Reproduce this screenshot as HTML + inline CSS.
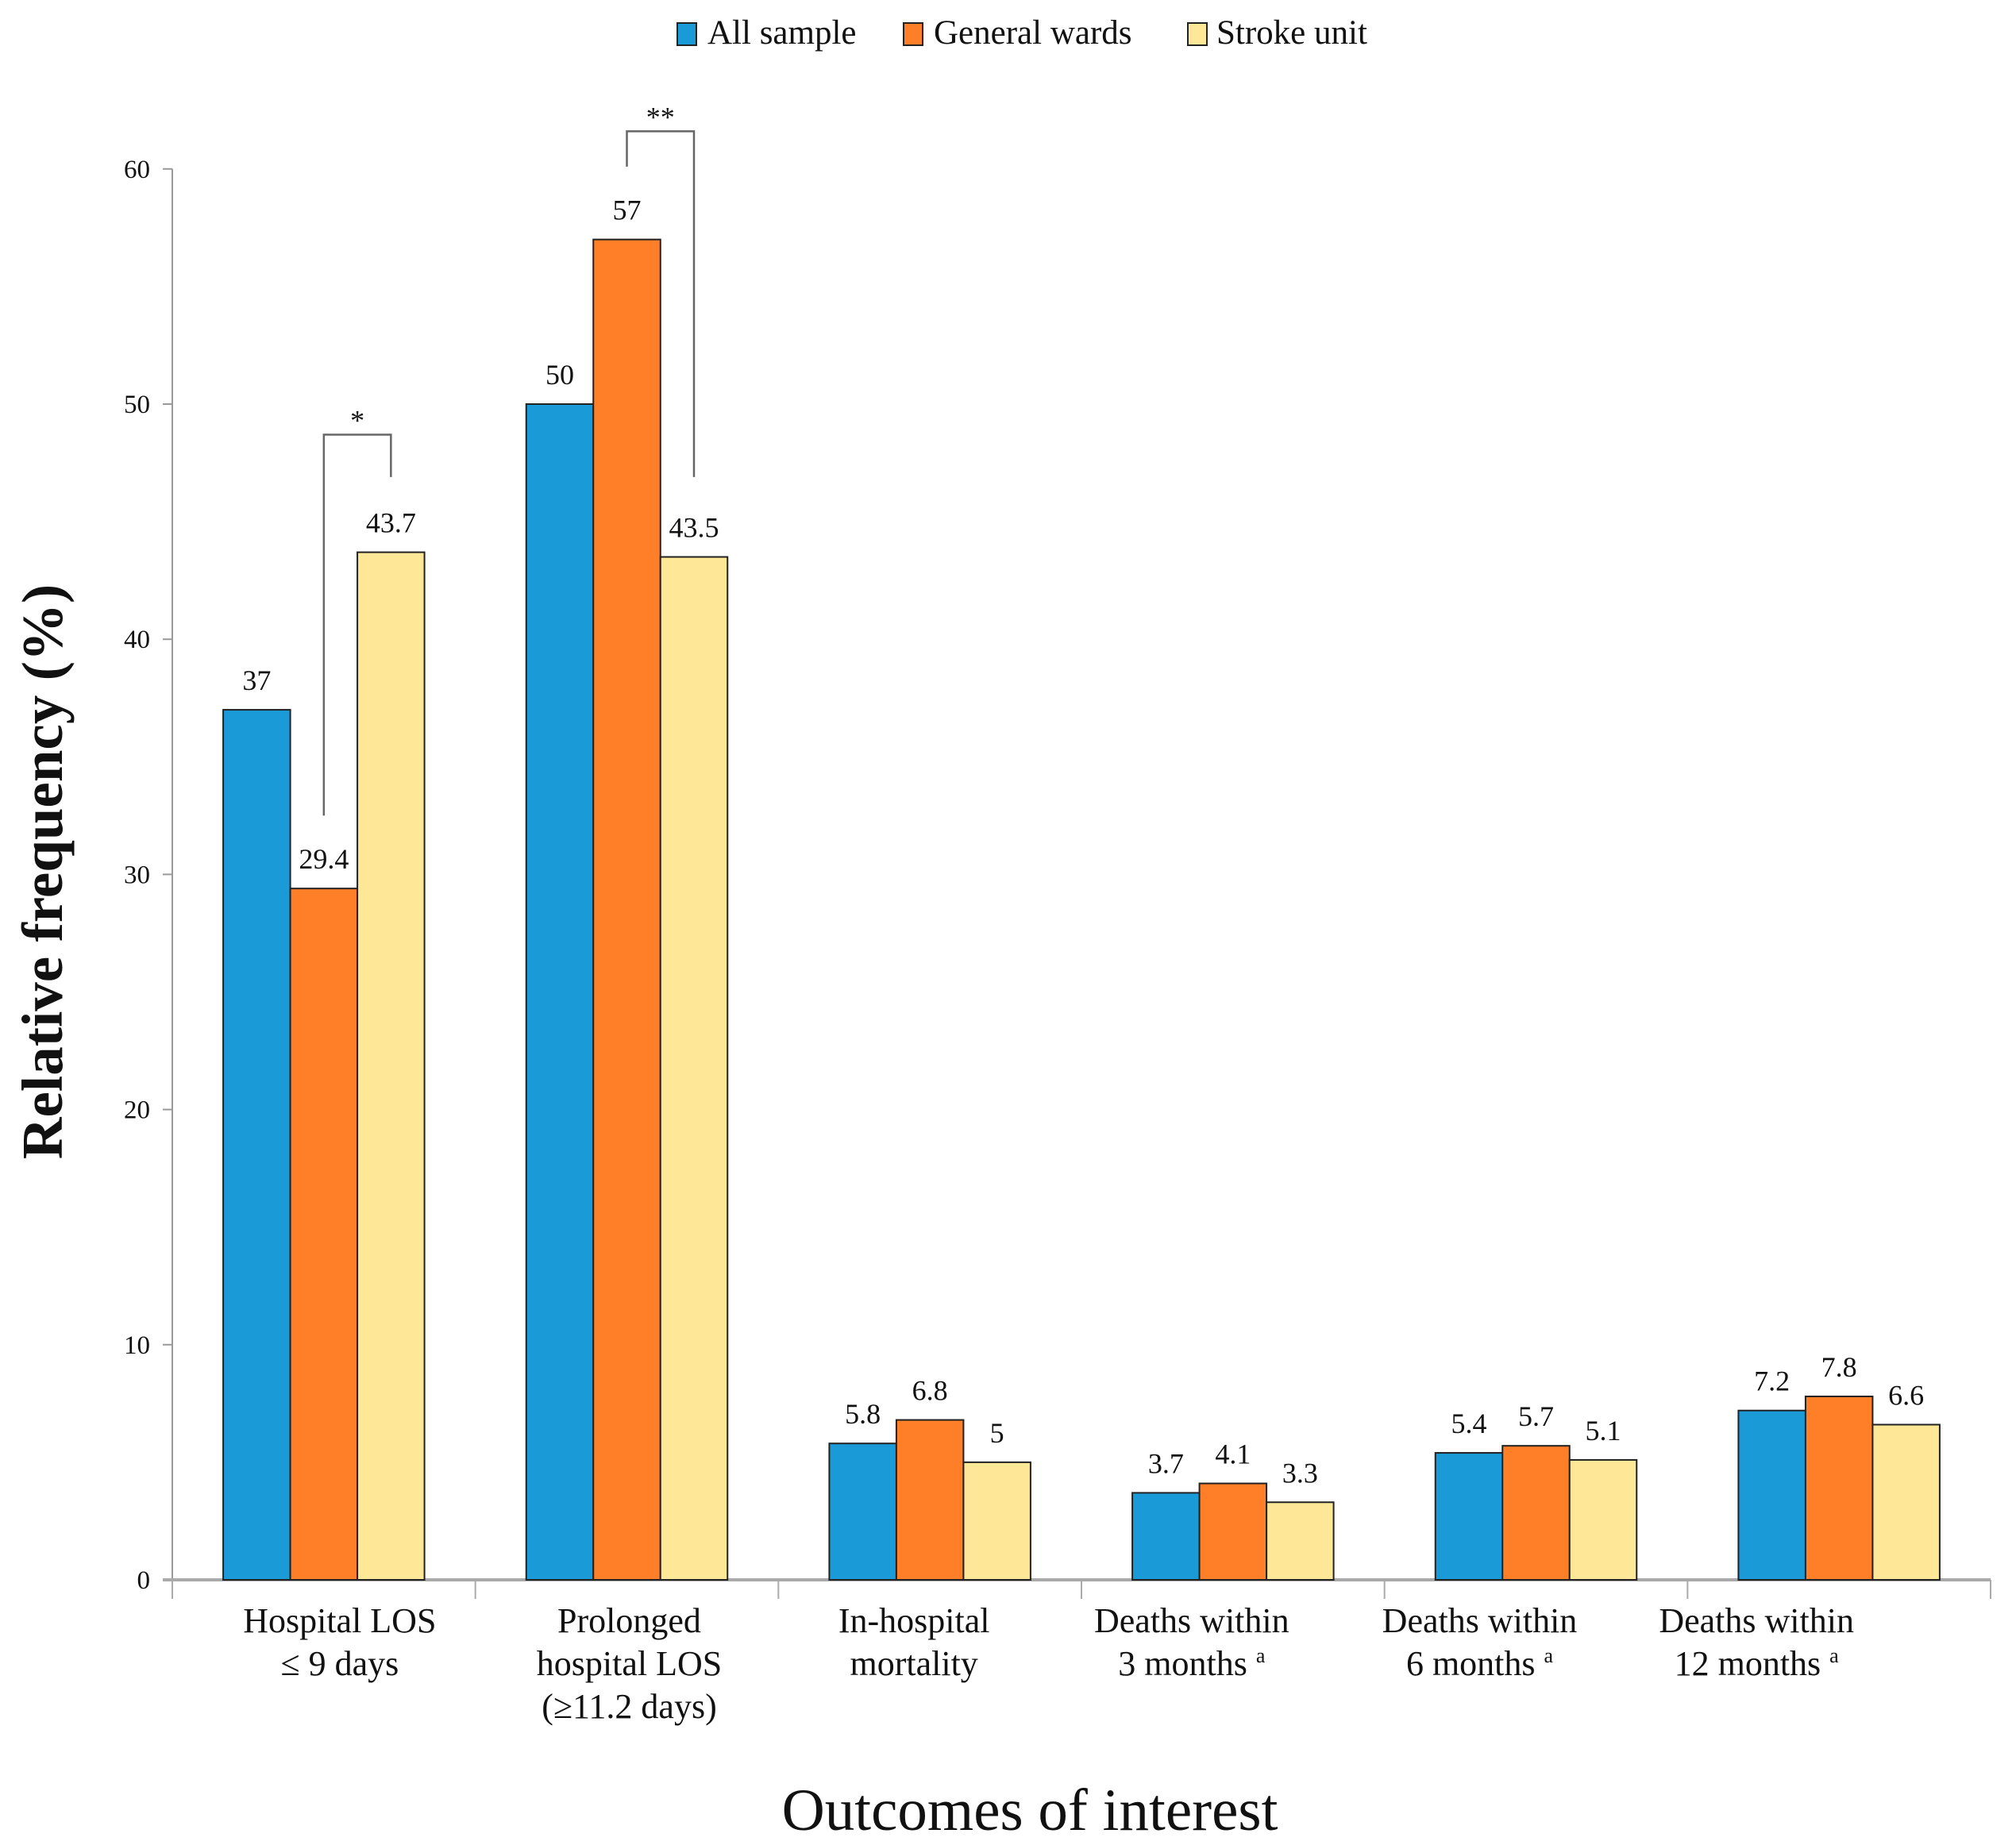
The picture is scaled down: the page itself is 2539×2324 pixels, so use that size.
<!DOCTYPE html>
<html><head><meta charset="utf-8"><style>
html,body{margin:0;padding:0;background:#fff}
svg{display:block;font-family:"Liberation Serif",serif}
text,tspan{font-family:"Liberation Serif",serif;fill:#111}
</style></head><body>
<svg id="chart" width="2539" height="2324" viewBox="0 0 2539 2324" xmlns="http://www.w3.org/2000/svg" font-family="Liberation Serif, serif">
<g id="legend">
 <g>
  <rect x="853" y="29" width="24" height="28" fill="#1a9bd7" stroke="#222" stroke-width="2"/>
  <text x="891" y="55" font-size="43">All sample</text></g>
 <g>
  <rect x="1138" y="29" width="24" height="28" fill="#fe7f27" stroke="#222" stroke-width="2"/>
  <text x="1176" y="55" font-size="43">General wards</text></g>
 <g>
  <rect x="1496" y="29" width="24" height="28" fill="#fee797" stroke="#222" stroke-width="2"/>
  <text x="1532" y="55" font-size="43">Stroke unit</text></g>
</g>
<g id="axes"></g>
<g id="bars"></g>
<g id="labels"></g>
<g id="brackets"></g>
<text transform="translate(78,1098) rotate(-90)" text-anchor="middle" font-size="73" font-weight="bold">Relative frequency (%)</text>
<text x="1297" y="2305" text-anchor="middle" font-size="75">Outcomes of interest</text>
</svg>
<script>
const categories = [["Hospital LOS","\u2264 9 days"],["Prolonged","hospital LOS","(\u226511.2 days)"],["In-hospital","mortality"],["Deaths within","3 months ^a"],["Deaths within","6 months ^a"],["Deaths within","12 months ^a"]];
const allSample = [37, 50, 5.8, 3.7, 5.4, 7.2];
const generalWards = [29.4, 57, 6.8, 4.1, 5.7, 7.8];
const strokeUnit = [43.7, 43.5, 5, 3.3, 5.1, 6.6];
const yTicks = [0, 10, 20, 30, 40, 50, 60];
const seriesNames = ["all-sample","general-wards","stroke-unit"];
const colors = ["#1a9bd7","#fe7f27","#fee797"];
// significance brackets: [group, fromSeries, toSeries, topValue, leftEndValue, rightEndValue, label]
const brackets = [[0,1,2,48.7,32.5,46.9,"*"],[1,1,2,61.6,60.1,46.9,"**"]];

const NS="http://www.w3.org/2000/svg";
const X0=217, X1=2507, Y0=1990, PX10=296.2;
const catW=(X1-X0)/categories.length, barW=84.5;
const y=v=>Y0-v*PX10/10;
const xBar=(g,s)=>X0+g*catW+(catW-3*barW)/2+s*barW;
const labelOff=[20,3,-20,-52,-71,-104];
function mk(tag,attrs,parent){const e=document.createElementNS(NS,tag);for(const k in attrs)e.setAttribute(k,attrs[k]);parent.appendChild(e);return e;}
const axes=document.getElementById('axes'),bars=document.getElementById('bars'),labels=document.getElementById('labels'),br=document.getElementById('brackets');
let yl=mk('line',{x1:X0,y1:y(60),x2:X0,y2:Y0,stroke:'#999','stroke-width':2},axes);


yTicks.forEach(t=>{
  let l=mk('line',{x1:X0-12,y1:y(t),x2:X0,y2:y(t),stroke:'#999','stroke-width':2},axes);
  
  
  let tx=mk('text',{x:X0-28,y:y(t)+11,'text-anchor':'end','font-size':33},axes);tx.textContent=t;
  
  
});
let xl=mk('line',{x1:X0-12,y1:Y0,x2:X1,y2:Y0,stroke:'#aaa','stroke-width':4},axes);


for(let i=0;i<=categories.length;i++){
  let l=mk('line',{x1:X0+i*catW,y1:Y0,x2:X0+i*catW,y2:Y0+24,stroke:'#aaa','stroke-width':2},axes);
  
  
}
categories.forEach((c,g)=>{
  const cx=X0+g*catW+catW/2+labelOff[g];
  c.forEach((line,i)=>{
    const sup=line.endsWith('^a');
    let t=mk('text',{x:cx,y:2056+i*54,'text-anchor':'middle','font-size':44},labels);
    
    
    t.appendChild(document.createTextNode(sup?line.slice(0,-2):line));
    if(sup){let s=mk('tspan',{'font-size':26,dy:-16},t);s.textContent='a';}
  });
});
[allSample,generalWards,strokeUnit].forEach((ser,s)=>{
  ser.forEach((v,g)=>{
    let r=mk('rect',{x:xBar(g,s),y:y(v),width:barW,height:Y0-y(v),fill:colors[s],stroke:'#222','stroke-width':2},bars);
    
    
    let t=mk('text',{x:xBar(g,s)+barW/2,y:y(v)-25,'text-anchor':'middle','font-size':36},labels);t.textContent=v;
    
    
  });
});
brackets.forEach(b=>{
  const xa=xBar(b[0],b[1])+barW/2, xb=xBar(b[0],b[2])+barW/2;
  let p=mk('path',{d:`M${xa},${y(b[4])}V${y(b[3])}H${xb}V${y(b[5])}`,fill:'none',stroke:'#666','stroke-width':2.5},br);
  
  
  let t=mk('text',{x:(xa+xb)/2,y:y(b[3])-6,'text-anchor':'middle','font-size':36},br);t.textContent=b[6];
  
  
});
</script>
</body></html>
